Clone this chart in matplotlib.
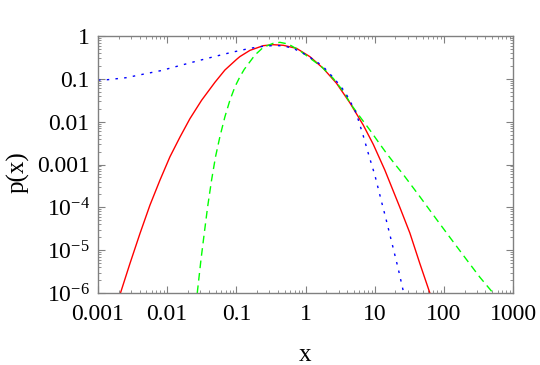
import numpy as np
import matplotlib
matplotlib.use("Agg")
import matplotlib.pyplot as plt
from matplotlib.ticker import LogLocator, FixedLocator, FixedFormatter, NullFormatter

plt.rcParams['font.family'] = ['Liberation Serif', 'DejaVu Serif']
plt.rcParams['mathtext.fontset'] = 'custom'
plt.rcParams['mathtext.rm'] = 'Liberation Serif'
plt.rcParams['mathtext.it'] = 'Liberation Serif:italic'

# curves, as log10(x), log10(p)
red_logx = [-2.675, -2.538, -2.393, -2.249, -2.104, -1.96, -1.815, -1.671, -1.502,
            -1.309, -1.165, -0.996, -0.948, -0.803, -0.611, -0.467, -0.322, -0.13,
            0.064, 0.256, 0.449, 0.642, 0.835, 0.98, 1.147, 1.364, 1.509, 1.653, 1.798]
red_logp = [-6.0, -5.311, -4.61, -3.949, -3.364, -2.82, -2.36, -1.93, -1.50,
            -1.08, -0.794, -0.545, -0.48, -0.335, -0.226, -0.203, -0.217, -0.288,
            -0.483, -0.755, -1.105, -1.56, -2.08, -2.53, -3.13, -4.0, -4.6, -5.311, -6.0]

green_logx = [-1.565, -1.512, -1.464, -1.415, -1.358, -1.301, -1.238, -1.165, -1.092,
              -1.02, -0.948, -0.886, -0.731, -0.611, -0.467, -0.37, -0.25, -0.081,
              0.087, 0.232, 0.40, 0.569, 0.642, 0.787, 0.931, 1.051, 1.172, 1.292,
              1.412, 1.653, 1.894, 2.087, 2.328, 2.52, 2.712]
green_logp = [-6.0, -5.234, -4.61, -3.988, -3.364, -2.82, -2.353, -1.885, -1.495,
              -1.185, -0.951, -0.78, -0.444, -0.265, -0.171, -0.148, -0.187, -0.343,
              -0.545, -0.716, -0.988, -1.339, -1.56, -1.885, -2.196, -2.469, -2.741, -2.99,
              -3.23, -3.75, -4.28, -4.70, -5.22, -5.63, -6.0]

blue_logx = [-3.0, -2.86, -2.595, -2.335, -2.094, -1.84, -1.584, -1.324, -1.068,
             -0.803, -0.611, -0.45, -0.322, -0.178, -0.033, 0.136, 0.256, 0.425,
             0.569, 0.714, 0.762, 0.835, 0.922, 1.003, 1.101, 1.162, 1.22, 1.278,
             1.34, 1.389, 1.42]
blue_logp = [-1.03, -1.02, -0.974, -0.888, -0.81, -0.70, -0.591, -0.483, -0.381,
             -0.288, -0.24, -0.222, -0.23, -0.288, -0.405, -0.57, -0.716, -1.012,
             -1.30, -1.729, -1.95, -2.33, -2.82, -3.25, -3.88, -4.26, -4.64, -5.02,
             -5.43, -5.78, -6.0]

xticks = [0.001, 0.01, 0.1, 1, 10, 100, 1000]
xticklabels = ["0.001", "0.01", "0.1", "1", "10", "100", "1000"]
yticks = [1e-6, 1e-5, 1e-4, 1e-3, 1e-2, 1e-1, 1]
yticklabels = [r"$\mathrm{10^{-6}}$", r"$\mathrm{10^{-5}}$", r"$\mathrm{10^{-4}}$",
               "0.001", "0.01", "0.1", "1"]

fig = plt.figure(figsize=(5.4, 3.65), dpi=100)
ax = fig.add_axes([98/540, 1-293/365, 415/540, 257/365])

ax.plot(10**np.array(red_logx), 10**np.array(red_logp), color=(1, 0, 0), lw=1.0)
ax.plot(10**np.array(green_logx), 10**np.array(green_logp), color=(0, 1, 0), lw=1.0,
        dashes=(5.5, 3.5))
ax.plot(10**np.array(blue_logx), 10**np.array(blue_logp), color=(0, 0, 1), lw=1.0,
        dashes=(1.8, 4.5))

ax.set_xscale("log")
ax.set_yscale("log")
ax.set_xlim(0.001, 1000)
ax.set_ylim(1e-6, 1)

ax.xaxis.set_major_locator(FixedLocator(xticks))
ax.xaxis.set_major_formatter(FixedFormatter(xticklabels))
ax.yaxis.set_major_locator(FixedLocator(yticks))
ax.yaxis.set_major_formatter(FixedFormatter(yticklabels))
ax.xaxis.set_minor_locator(LogLocator(base=10, subs=np.arange(2, 10), numticks=20))
ax.yaxis.set_minor_locator(LogLocator(base=10, subs=np.arange(2, 10), numticks=20))
ax.xaxis.set_minor_formatter(NullFormatter())
ax.yaxis.set_minor_formatter(NullFormatter())

frame_col = "#808080"
for s in ax.spines.values():
    s.set_color(frame_col)
    s.set_linewidth(1.0)
ax.tick_params(which="both", direction="in", top=True, right=True, color=frame_col,
               labelsize=17, labelcolor="black")
ax.tick_params(which="major", length=5, width=0.8)
ax.tick_params(which="minor", length=2.5, width=0.6)
ax.tick_params(axis="x", which="major", pad=8)
ax.tick_params(axis="y", which="major", pad=6)

ax.set_xlabel("x", fontsize=18)
ax.set_ylabel("p(x)", fontsize=18)
ax.xaxis.set_label_coords(0.5, -0.2)
ax.yaxis.set_label_coords(-0.164, 0.47)

fig.savefig("out.png", dpi=100)
